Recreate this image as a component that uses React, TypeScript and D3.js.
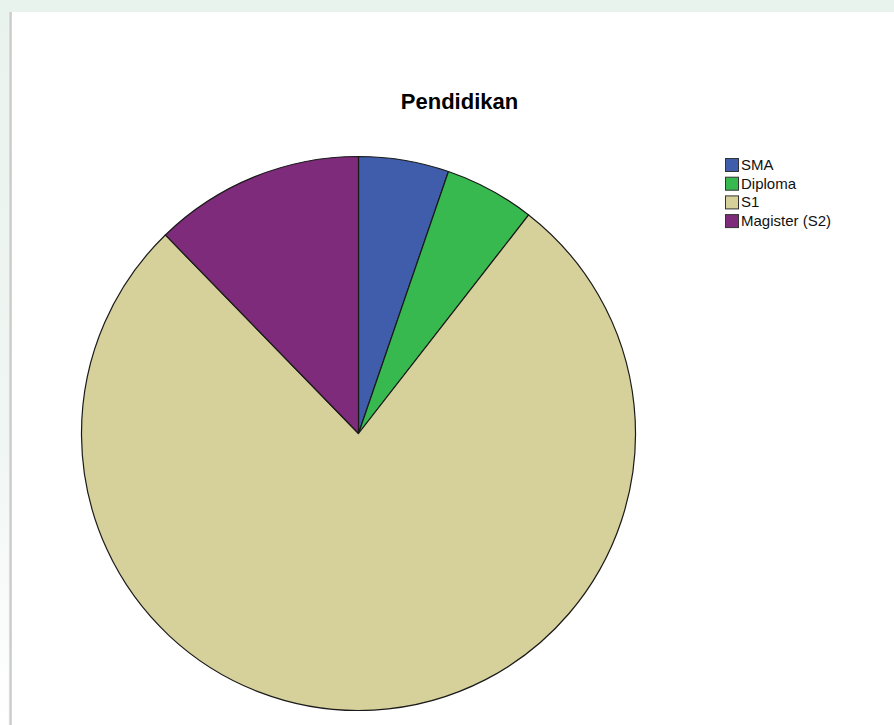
import React from "react";
import * as d3 from "d3";

const categories: string[] = ["SMA", "Diploma", "S1", "Magister (S2)"];
const counts: number[] = [3, 3, 44, 7];
const colors: string[] = ["#3f5dab", "#37b94f", "#d6d19b", "#7f2b7c"];
const title = "Pendidikan";

export default function App() {
  const W = 894, H = 725;
  const cx = 358.5, cy = 433.5, r = 277;
  const pie = d3.pie<number>().sort(null).startAngle(0).endAngle(2 * Math.PI);
  const arcs = pie(counts);
  const arc = d3.arc<d3.PieArcDatum<number>>().innerRadius(0).outerRadius(r);
  const legendY = d3.scaleBand<string>().domain(categories).range([158, 158 + 18.7 * categories.length]);

  return (
    <svg width={W} height={H} style={{ position: "absolute", left: 0, top: 0, fontFamily: "'Liberation Sans', Arial, sans-serif" }}>
      <defs>
        <linearGradient id="shadow" x1="0" x2="1" y1="0" y2="0">
          <stop offset="0" stopColor="#ffffff" stopOpacity="0" />
          <stop offset="0.5" stopColor="#c4c4c4" />
          <stop offset="1" stopColor="#dcdcdc" />
        </linearGradient>
        <linearGradient id="leftband" x1="0" x2="0" y1="0" y2="1">
          <stop offset="0" stopColor="#e9f3ee" />
          <stop offset="0.6" stopColor="#f0f6f3" />
          <stop offset="1" stopColor="#ffffff" />
        </linearGradient>
      </defs>
      <rect x={0} y={0} width={W} height={H} fill="#ffffff" />
      <rect x={0} y={0} width={10} height={H} fill="url(#leftband)" />
      <rect x={0} y={0} width={W} height={12} fill="#e8f3ed" />
      <rect x={8} y={12} width={4} height={H - 12} fill="url(#shadow)" />
      <rect x={12} y={12} width={W - 12} height={H - 12} fill="#ffffff" />
      <text x={459.5} y={109} textAnchor="middle" fontSize={22} fontWeight="bold" fill="#000">
        {title}
      </text>
      <g transform={`translate(${cx},${cy})`}>
        {arcs.map((a, i) => (
          <path key={categories[i]} d={arc(a) || ""} fill={colors[i]} stroke="#1a1a1a" strokeWidth={1.2} strokeLinejoin="round" />
        ))}
      </g>
      <g>
        {categories.map((c, i) => {
          const y = legendY(c) as number;
          return (
            <g key={c}>
              <rect x={725.5} y={y + 0.5} width={13} height={13} fill={colors[i]} stroke="#333" strokeWidth={1} />
              <text x={741} y={y + 12} fontSize={15} fill="#111">
                {c}
              </text>
            </g>
          );
        })}
      </g>
    </svg>
  );
}
